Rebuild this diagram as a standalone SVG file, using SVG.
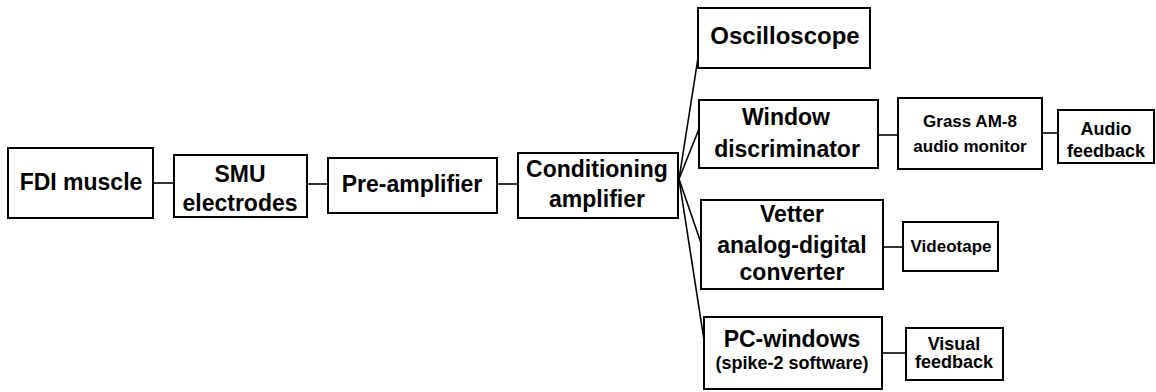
<svg xmlns="http://www.w3.org/2000/svg" width="1156" height="392" viewBox="0 0 1156 392">
<style>
.box{fill:#fff;stroke:#000;stroke-width:2}
.big{font-family:"Liberation Sans",Arial,sans-serif;font-weight:bold;font-size:23px;text-anchor:middle;fill:#000}
.sm{font-family:"Liberation Sans",Arial,sans-serif;font-weight:bold;font-size:17px;text-anchor:middle;fill:#000}
.sm2{font-family:"Liberation Sans",Arial,sans-serif;font-weight:bold;font-size:18px;text-anchor:middle;fill:#000}
.con line{stroke:#000;stroke-width:1.6}
</style>
<rect width="1156" height="392" fill="#fff"/>
<g class="con">
<line x1="153" y1="183" x2="174" y2="183"/>
<line x1="307" y1="184" x2="328" y2="184"/>
<line x1="497" y1="184" x2="518" y2="184"/>
<line x1="679" y1="179" x2="698" y2="58"/>
<line x1="679" y1="179" x2="699" y2="129"/>
<line x1="679" y1="179" x2="701" y2="243"/>
<line x1="679" y1="179" x2="704" y2="340"/>
<line x1="878" y1="135" x2="898" y2="135"/>
<line x1="1042" y1="133" x2="1058" y2="133"/>
<line x1="883" y1="247" x2="903" y2="247"/>
<line x1="882" y1="353" x2="906" y2="353"/>
</g>
<g id="fdi"><rect class="box" x="8" y="148" width="145" height="70"/><text class="big" x="81" y="190">FDI muscle</text></g>
<g id="smu"><rect class="box" x="174" y="155" width="133" height="62"/><text class="big" x="240" y="182">SMU</text><text class="big" x="240" y="211">electrodes</text></g>
<g id="pre"><rect class="box" x="328" y="158" width="169" height="55"/><text class="big" x="412" y="192">Pre-amplifier</text></g>
<g id="cond"><rect class="box" x="518" y="153" width="160" height="65"/><text class="big" x="597" y="177">Conditioning</text><text class="big" x="597" y="207">amplifier</text></g>
<g id="osc"><rect class="box" x="698" y="8" width="172" height="60"/><text class="big" x="785" y="44" style="font-size:24px">Oscilloscope</text></g>
<g id="window"><rect class="box" x="699" y="100" width="179" height="68"/><text class="big" x="786" y="125">Window</text><text class="big" x="787" y="157">discriminator</text></g>
<g id="grass"><rect class="box" x="898" y="98" width="144" height="71"/><text class="sm" x="970" y="127">Grass AM-8</text><text class="sm" x="970" y="152">audio monitor</text></g>
<g id="audio"><rect class="box" x="1058" y="110" width="96" height="53"/><text class="sm2" x="1106" y="135">Audio</text><text class="sm2" x="1106" y="157">feedback</text></g>
<g id="vetter"><rect class="box" x="701" y="200" width="182" height="89"/><text class="big" x="792" y="222">Vetter</text><text class="big" x="792" y="253">analog-digital</text><text class="big" x="792" y="280">converter</text></g>
<g id="videotape"><rect class="box" x="903" y="222" width="95" height="49"/><text class="sm" x="951" y="252">Videotape</text></g>
<g id="pc"><rect class="box" x="704" y="317" width="178" height="72"/><text class="big" x="792" y="347">PC-windows</text><text class="sm2" x="792" y="369">(spike-2 software)</text></g>
<g id="visual"><rect class="box" x="906" y="328" width="97" height="52"/><text class="sm2" x="954" y="350">Visual</text><text class="sm2" x="954" y="368">feedback</text></g>
</svg>
